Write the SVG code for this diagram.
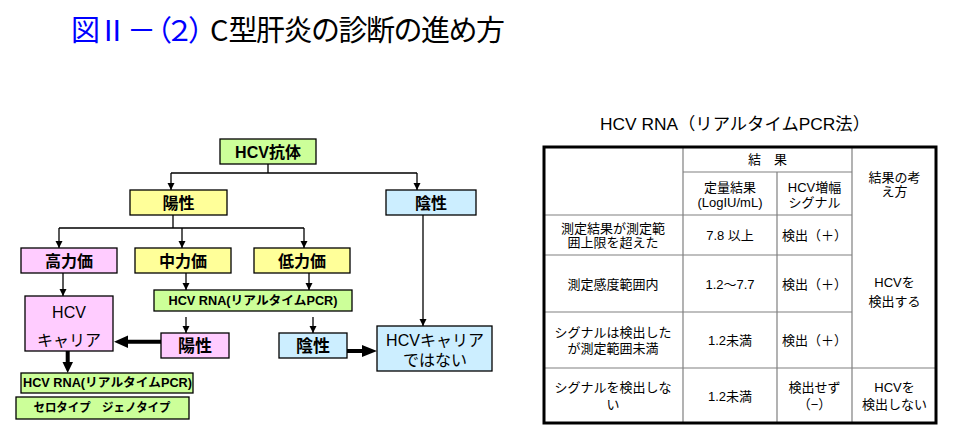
<svg xmlns="http://www.w3.org/2000/svg" width="960" height="445" viewBox="0 0 960 445">
<defs>
<style>
text{font-family:"Liberation Sans","Noto Sans CJK JP",sans-serif;text-anchor:middle;dominant-baseline:central;fill:#000}
.box{stroke:#000;stroke-width:1.3}
.g{fill:#ccff99}.y{fill:#ffff99}.p{fill:#ffccff}.b{fill:#cceeff}
.lbl{font-size:16px;font-weight:bold}
.sm{font-size:12px;font-weight:bold}
.cl{font-size:16px}
.ln{stroke:#000;stroke-width:1.3;fill:none}
.thk{fill:#000}
.tt{font-size:13px}
.grid{stroke:#808080;stroke-width:1.2;fill:none}
.ttl{font-family:"Noto Sans CJK JP",sans-serif;font-size:29px;text-anchor:start}
</style>
<marker id="ah" markerUnits="userSpaceOnUse" markerWidth="8" markerHeight="8" refX="7" refY="4" orient="auto">
<path d="M0,0.5 L7,4 L0,7.5 z" fill="#000"/>
</marker>
</defs>
<rect width="960" height="445" fill="#fff"/>
<g id="title">
<text class="ttl" y="28"><tspan fill="#0000ff" x="71 98 127 143 165 188">図Ⅱ－（２）</tspan><tspan x="210 228.5 256 283.5 311 338.5 366 393.5 421 448.5 476">C型肝炎の診断の進め方</tspan></text>
</g>
<g id="connectors">
<path class="ln" d="M268,164 V173 M171,173 H417"/>
<path class="ln" d="M171,173 V190" marker-end="url(#ah)"/>
<path class="ln" d="M417,173 V190" marker-end="url(#ah)"/>
<path class="ln" d="M173,215 V228 M59,228 H304"/>
<path class="ln" d="M59,228 V248" marker-end="url(#ah)"/>
<path class="ln" d="M182,228 V248" marker-end="url(#ah)"/>
<path class="ln" d="M304,228 V248" marker-end="url(#ah)"/>
<path class="ln" d="M423,215 V326" marker-end="url(#ah)"/>
<path class="ln" d="M63,273 V296" marker-end="url(#ah)"/>
<path class="ln" d="M186,273 V290" marker-end="url(#ah)"/>
<path class="ln" d="M309,273 V290" marker-end="url(#ah)"/>
<path class="ln" d="M186,317 V333" marker-end="url(#ah)"/>
<path class="ln" d="M313,317 V333" marker-end="url(#ah)"/>
<polygon class="thk" points="161,339.7 128,339.7 128,335.5 114,341.7 128,348 128,343.7 161,343.7"/>
<polygon class="thk" points="347,349 362,349 362,345 377,351 362,357 362,353 347,353"/>
<polygon class="thk" points="65.7,351 69.7,351 69.7,362 73,362 67.7,373 62.5,362 65.7,362"/>
</g>
<g id="n-hcv-antibody"><rect class="box g" x="220" y="139" width="96" height="25"/><text class="lbl" x="268" y="152">HCV抗体</text></g>
<g id="n-positive"><rect class="box y" x="130" y="190" width="97" height="25"/><text class="lbl" x="178.5" y="203">陽性</text></g>
<g id="n-negative"><rect class="box b" x="386" y="190" width="90" height="25"/><text class="lbl" x="431" y="203">陰性</text></g>
<g id="n-high"><rect class="box p" x="21" y="248" width="96" height="25"/><text class="lbl" x="69" y="261">高力価</text></g>
<g id="n-mid"><rect class="box y" x="135" y="248" width="96" height="25"/><text class="lbl" x="183" y="261">中力価</text></g>
<g id="n-low"><rect class="box y" x="254" y="248" width="96" height="25"/><text class="lbl" x="302" y="261">低力価</text></g>
<g id="n-carrier"><rect class="box p" x="25" y="296" width="88" height="55"/><text class="cl" x="69" y="312">HCV</text><text class="cl" x="69" y="340">キャリア</text></g>
<g id="n-rna1"><rect class="box g" x="154" y="290" width="198" height="21"/><text class="sm" x="253" y="301" textLength="169" lengthAdjust="spacingAndGlyphs">HCV RNA(リアルタイムPCR)</text></g>
<g id="n-rna-pos"><rect class="box p" x="161" y="333" width="68" height="25"/><text class="lbl" x="195" y="346" style="font-size:17px">陽性</text></g>
<g id="n-rna-neg"><rect class="box b" x="279" y="333" width="68" height="25"/><text class="lbl" x="313" y="346" style="font-size:17px">陰性</text></g>
<g id="n-not-carrier"><rect class="box b" x="377" y="326" width="115" height="45"/><text class="cl" x="435" y="340">HCVキャリア</text><text class="cl" x="435" y="360">ではない</text></g>
<g id="n-rna2"><rect class="box g" x="21" y="373" width="172" height="20"/><text class="sm" x="107.5" y="383" textLength="169" lengthAdjust="spacingAndGlyphs">HCV RNA(リアルタイムPCR)</text></g>
<g id="n-type"><rect class="box g" x="16" y="397" width="173" height="22"/><text class="sm" x="102" y="408" textLength="137" lengthAdjust="spacingAndGlyphs">セロタイプ　ジェノタイプ</text></g>
<g id="table">
<text x="735" y="124" style="font-size:17px" textLength="270" lengthAdjust="spacingAndGlyphs">HCV RNA（リアルタイムPCR法）</text>
<path class="grid" d="M683,146 V424 M777,172 V368 M852,146 V424 M683,172 H852 M543,215 H852 M543,255 H852 M543,312 H852 M543,368 H937 M777,368 V424"/>
<rect x="544" y="147" width="392" height="276" fill="none" stroke="#000" stroke-width="3"/>
<text class="tt" x="767.5" y="159">結　果</text>
<text class="tt" x="894.5" y="177">結果の考</text><text class="tt" x="894.5" y="191">え方</text>
<text class="tt" x="730" y="187">定量結果</text><text class="tt" x="730" y="202">(LogIU/mL)</text>
<text class="tt" x="814.5" y="187">HCV増幅</text><text class="tt" x="814.5" y="202">シグナル</text>
<text class="tt" x="613" y="228">測定結果が測定範</text><text class="tt" x="613" y="242">囲上限を超えた</text>
<text class="tt" x="730" y="235">7.8 以上</text><text class="tt" x="814.5" y="235">検出（＋）</text>
<text class="tt" x="613" y="284">測定感度範囲内</text>
<text class="tt" x="730" y="284">1.2〜7.7</text><text class="tt" x="814.5" y="284">検出（＋）</text>
<text class="tt" x="894.5" y="282">HCVを</text><text class="tt" x="894.5" y="301">検出する</text>
<text class="tt" x="613" y="332">シグナルは検出した</text><text class="tt" x="613" y="348">が測定範囲未満</text>
<text class="tt" x="730" y="340">1.2未満</text><text class="tt" x="814.5" y="340">検出（＋）</text>
<text class="tt" x="613" y="387">シグナルを検出しな</text><text class="tt" x="613" y="404">い</text>
<text class="tt" x="730" y="396">1.2未満</text>
<text class="tt" x="814.5" y="387">検出せず</text><text class="tt" x="814.5" y="404">（−）</text>
<text class="tt" x="894.5" y="387">HCVを</text><text class="tt" x="894.5" y="404">検出しない</text>
</g>
</svg>
